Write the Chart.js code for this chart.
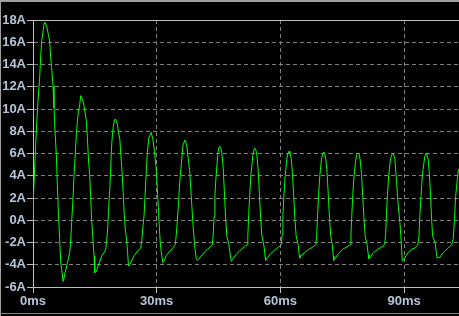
<!DOCTYPE html>
<html>
<head>
<meta charset="utf-8">
<script src="https://cdn.jsdelivr.net/npm/chart.js@4"></script>
<style>
  html, body { margin: 0; padding: 0; background: #000; }
  #wrap { width: 459px; height: 316px; }
</style>
</head>
<body>
<div id="wrap"><canvas id="myChart" width="459" height="316"></canvas></div>
<script>
// time (ms) and current (A)
const timeMs = [
  0, 0.05, 0.4, 0.8, 1.2, 1.6, 1.85, 2.1, 2.4, 2.67, 2.91, 3.23, 3.47, 3.72, 4.04, 4.28, 4.53, 4.85, 5.09, 5.34, 5.66, 5.9, 6.15, 6.47, 6.71, 6.96, 7.28, 7.52, 7.77, 8.09, 8.33, 8.58, 8.9,
  9.14, 9.38, 9.71, 9.95, 10.19, 10.52, 10.76, 11.01, 11.33, 11.57, 11.82, 12.14, 12.38, 12.95, 13.19, 13.43, 13.75, 14.0, 14.24, 14.56, 14.81, 14.97, 15.37, 15.62, 16.19, 16.67, 17.24, 17.65,
  17.81, 18.05, 18.3, 18.62, 18.86, 19.11, 19.43, 19.67, 19.92, 20.24, 20.48, 20.73, 21.05, 21.3, 21.54, 21.86, 22.11, 22.35, 22.68, 22.92, 23.16, 23.49, 24.5, 25.3, 26.1,
  26.36, 26.68, 26.93, 27.17, 27.5, 27.74, 28.1, 28.65, 29.05, 29.45, 29.86, 30.27, 30.51, 30.84, 31.08, 31.49, 31.73, 32.3, 33.1, 33.9, 34.5,
  34.75, 34.99, 35.3, 35.6, 36.1, 36.35, 36.8, 37.2, 37.4, 37.7, 38.0, 38.4, 38.8, 39.2, 39.6, 39.83, 40.2, 41.0, 42.0, 43.0, 43.5,
  43.7, 43.9, 44.1, 44.4, 44.8, 45.05, 45.3, 45.55, 45.8, 46.1, 46.4, 46.7, 47.0, 47.5, 47.9, 48.1, 48.4, 49.2, 50.2, 51.2, 51.9,
  52.1, 52.3, 52.55, 52.85, 53.3, 53.55, 53.8, 54.05, 54.3, 54.6, 54.9, 55.2, 55.5, 56.0, 56.3, 56.4, 56.8, 57.6, 58.6, 59.6, 60.2,
  60.4, 60.6, 60.85, 61.15, 61.55, 61.8, 62.08, 62.3, 62.6, 62.9, 63.2, 63.5, 63.8, 64.3, 64.55, 64.7, 65.0, 65.9, 66.9, 67.9, 68.6,
  68.8, 69.0, 69.25, 69.55, 69.95, 70.25, 70.5, 70.75, 71.0, 71.3, 71.6, 71.9, 72.2, 72.6, 72.8, 72.95, 73.3, 74.1, 75.1, 76.1, 76.9,
  77.1, 77.3, 77.55, 77.85, 78.25, 78.55, 78.84, 79.1, 79.35, 79.65, 79.95, 80.25, 80.55, 81.0, 81.3, 81.45, 81.8, 82.6, 83.6, 84.6, 85.3,
  85.5, 85.7, 85.95, 86.25, 86.65, 86.95, 87.27, 87.5, 87.76, 88.16, 88.57, 88.97, 89.2, 89.38, 89.54, 89.94, 90.43, 91.0, 91.8, 92.6, 93.3,
  93.6, 93.8, 94.1, 94.4, 94.8, 95.05, 95.3, 95.5, 95.8, 96.1, 96.4, 96.66, 96.9, 97.5, 97.9, 98.0, 98.7, 99.5, 100.7, 101.5,
  101.9, 102.2, 102.5, 102.9, 103.2
];
const currentA = [
  0, 1.6, 4.7, 8.0, 10.7, 12.7, 14.6, 16.1, 16.9, 17.6, 17.8, 17.5, 17.2, 16.7, 16.1, 14.6, 13.7, 12.1, 10.1, 8.0, 5.9, 3.2, 0.8, -1.7, -3.7, -4.4, -5.5, -5.2, -4.7, -4.3, -3.8, -3.5, -2.9,
  -1.9, -0.1, 2.0, 4.1, 5.6, 7.7, 8.9, 9.7, 10.4, 11.2, 11.0, 10.7, 10.3, 8.9, 7.4, 5.6, 4.0, 2.0, -0.1, -1.9, -3.2, -4.7, -4.6, -4.3, -3.7, -3.2, -2.9, -2.6,
  -2.0, -1.1, 0.7, 2.8, 4.9, 7.0, 8.3, 8.9, 9.1, 8.9, 8.6, 7.9, 7.3, 5.9, 4.7, 2.5, 0.7, -0.7, -1.7, -2.8, -4.1, -4.0, -3.2, -2.8, -2.5,
  -1.9, -0.5, 0.4, 2.2, 4.6, 6.1, 7.4, 7.9, 7.3, 6.2, 4.7, 2.0, 0.2, -1.9, -2.8, -3.8, -3.7, -3.2, -2.8, -2.5, -2.2,
  -1.3, -0.1, 1.7, 3.5, 5.6, 6.7, 7.2, 6.9, 6.4, 5.3, 4.4, 2.0, -0.4, -2.3, -3.5, -3.6, -3.5, -3.1, -2.7, -2.4, -2.2,
  -1.3, 0.3, 2.2, 4.0, 5.9, 6.5, 6.65, 6.5, 6.0, 4.8, 2.6, 0.3, -1.4, -2.2, -3.3, -3.7, -3.5, -3.1, -2.7, -2.4, -2.2,
  -1.3, 0.4, 2.3, 4.1, 5.8, 6.3, 6.47, 6.3, 5.8, 4.5, 2.4, 0.2, -1.4, -2.3, -3.3, -3.6, -3.4, -3.0, -2.7, -2.4, -2.2,
  -1.3, 0.4, 2.3, 4.0, 5.5, 6.0, 6.2, 6.05, 5.6, 4.3, 2.3, 0.2, -1.4, -2.2, -3.1, -3.4, -3.2, -2.9, -2.6, -2.4, -2.2,
  -1.3, 0.4, 2.3, 4.0, 5.5, 5.95, 6.14, 6.0, 5.5, 4.3, 2.3, 0.2, -1.4, -2.3, -3.2, -3.6, -3.4, -3.0, -2.6, -2.4, -2.2,
  -1.3, 0.4, 2.3, 4.0, 5.4, 5.9, 6.05, 5.9, 5.4, 4.2, 2.2, 0.2, -1.4, -2.2, -3.1, -3.45, -3.3, -2.9, -2.6, -2.4, -2.2,
  -1.3, 0.4, 2.3, 4.0, 5.4, 5.85, 6.0, 5.85, 5.47, 3.4, 1.3, -0.2, -1.4, -2.6, -3.67, -3.5, -3.2, -2.9, -2.6, -2.5, -2.2,
  -1.4, 0.4, 2.2, 4.0, 5.2, 5.8, 6.0, 5.9, 5.5, 4.3, 2.2, 0.1, -1.4, -2.0, -3.2, -3.4, -3.3, -2.9, -2.5, -2.2,
  -1.7, 0.1, 2.2, 3.7, 4.6
];
const xTicks = [0, 30, 60, 90];
const yMin = -6;
const yMax = 18;
const xMax = 103.3;

const labelColor = "#b8c4d8";
const gridColor = "#808080";
const axisColor = "#c0c0c0";
const labelFont = { family: "'Liberation Sans', Arial, sans-serif", size: 13, weight: "bold" };

const points = timeMs.map((t, i) => ({ x: t, y: currentA[i] }));

// black background, window frame and the solid top edge of the plot
const framePlugin = {
  id: "frame",
  beforeDraw(chart) {
    const ctx = chart.ctx;
    ctx.save();
    ctx.fillStyle = "#000";
    ctx.fillRect(0, 0, chart.width, chart.height);
    ctx.restore();
  },
  afterDraw(chart) {
    const ctx = chart.ctx;
    const a = chart.chartArea;
    ctx.save();
    ctx.strokeStyle = axisColor;
    ctx.lineWidth = 1;
    ctx.beginPath();
    ctx.moveTo(a.left, a.top + 0.5);
    ctx.lineTo(a.right, a.top + 0.5);
    ctx.stroke();
    ctx.fillStyle = "#a0a0a0";
    ctx.fillRect(0, 0, chart.width, 2);
    ctx.fillRect(0, 0, 1, chart.height);
    ctx.fillStyle = "#808080";
    ctx.fillRect(0, 313, chart.width, 1);
    ctx.restore();
  }
};

const config = {
  type: "line",
  data: {
    datasets: [{
      data: points,
      borderColor: "#00ff00",
      borderWidth: 1,
      pointRadius: 0,
      tension: 0,
      fill: false
    }]
  },
  options: {
    responsive: false,
    animation: false,
    events: [],
    layout: { padding: { top: 20, right: 0, bottom: 0, left: 0 } },
    plugins: { legend: { display: false }, tooltip: { enabled: false } },
    scales: {
      x: {
        type: "linear",
        min: 0,
        max: xMax,
        afterFit(scale) { scale.height = 29; },
        afterBuildTicks(scale) { scale.ticks = xTicks.map(v => ({ value: v })); },
        ticks: {
          color: labelColor,
          font: labelFont,
          padding: 1,
          maxRotation: 0,
          callback: v => v + "ms"
        },
        grid: {
          color: gridColor,
          tickColor: axisColor,
          tickLength: 6,
          tickBorderDash: []
        },
        border: { display: true, color: axisColor, width: 1, dash: [4, 3] }
      },
      y: {
        min: yMin,
        max: yMax,
        afterFit(scale) { scale.width = 33; },
        ticks: {
          stepSize: 2,
          color: labelColor,
          font: labelFont,
          padding: 1,
          callback: v => v + "A"
        },
        grid: {
          color: gridColor,
          tickColor: axisColor,
          tickLength: 6,
          tickBorderDash: []
        },
        border: { display: true, color: axisColor, width: 1, dash: [4, 3] }
      }
    }
  },
  plugins: [framePlugin]
};

const myChart = new Chart(document.getElementById("myChart"), config);
</script>
</body>
</html>
